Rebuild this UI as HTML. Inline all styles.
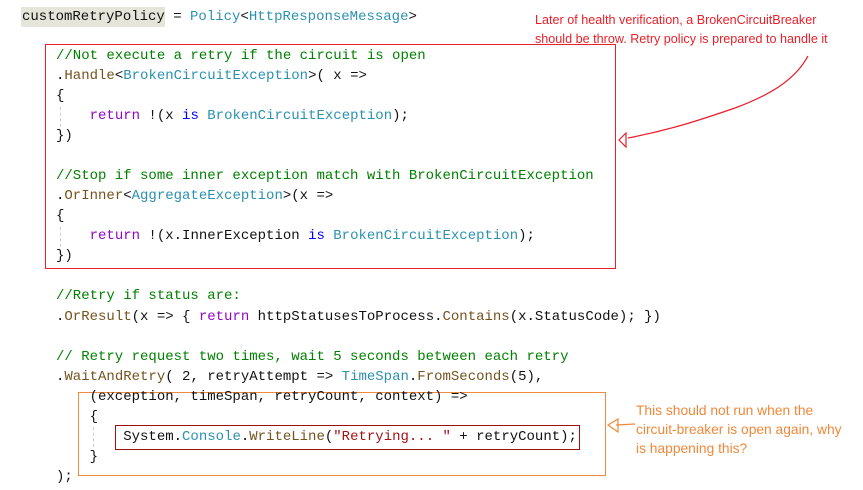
<!DOCTYPE html>
<html><head><meta charset="utf-8"><style>
html,body{margin:0;padding:0;background:#fff;width:863px;height:490px;overflow:hidden}
body{position:relative}
.l{position:absolute;font-family:"Liberation Mono",monospace;font-size:14px;line-height:20px;white-space:pre;color:#111}
.c{color:#008000}.t{color:#2b91af}.m{color:#74531f}.k{color:#0000ff}.r{color:#8f08c4}.s{color:#a31515}
.box{position:absolute;box-sizing:border-box}
.a{position:absolute;font-family:"Liberation Sans",sans-serif;line-height:19px;white-space:pre}
.g{position:absolute;width:0;border-left:1px dashed #ccc}
</style></head><body>
<div class="box" style="left:21px;top:7px;width:144px;height:20px;background:#e5e6d9"></div>
<div class="l" style="left:22px;top:7px">customRetryPolicy = <span class="t">Policy</span>&lt;<span class="t">HttpResponseMessage</span>&gt;</div>

<div class="box" style="left:45px;top:44px;width:571px;height:225px;border:1px solid #e8202a"></div>
<div class="g" style="left:60px;top:107px;height:20px"></div>
<div class="g" style="left:60px;top:227px;height:20px"></div>
<div class="l" style="left:56px;top:46px"><span class="c">//Not execute a retry if the circuit is open</span></div>
<div class="l" style="left:56px;top:66px">.<span class="m">Handle</span>&lt;<span class="t">BrokenCircuitException</span>&gt;( x =&gt;</div>
<div class="l" style="left:56px;top:86px">{</div>
<div class="l" style="left:56px;top:106px">    <span class="r">return</span> !(x <span class="k">is</span> <span class="t">BrokenCircuitException</span>);</div>
<div class="l" style="left:56px;top:126px">})</div>
<div class="l" style="left:56px;top:166px"><span class="c">//Stop if some inner exception match with BrokenCircuitException</span></div>
<div class="l" style="left:56px;top:186px">.<span class="m">OrInner</span>&lt;<span class="t">AggregateException</span>&gt;(x =&gt;</div>
<div class="l" style="left:56px;top:206px">{</div>
<div class="l" style="left:56px;top:226px">    <span class="r">return</span> !(x.InnerException <span class="k">is</span> <span class="t">BrokenCircuitException</span>);</div>
<div class="l" style="left:56px;top:246px">})</div>

<div class="l" style="left:56px;top:286px"><span class="c">//Retry if status are:</span></div>
<div class="l" style="left:56px;top:307px">.<span class="m">OrResult</span>(x =&gt; { <span class="r">return</span> httpStatusesToProcess.<span class="m">Contains</span>(x.StatusCode); })</div>
<div class="l" style="left:56px;top:347px"><span class="c">// Retry request two times, wait 5 seconds between each retry</span></div>
<div class="l" style="left:56px;top:367px">.<span class="m">WaitAndRetry</span>( 2, retryAttempt =&gt; <span class="t">TimeSpan</span>.<span class="m">FromSeconds</span>(5),</div>

<div class="box" style="left:78px;top:392px;width:528px;height:84px;border:1px solid #f08a3c"></div>
<div class="g" style="left:93px;top:427px;height:20px"></div>
<div class="l" style="left:56px;top:387px">    (exception, timeSpan, retryCount, context) =&gt;</div>
<div class="l" style="left:56px;top:407px">    {</div>
<div class="box" style="left:115px;top:425px;width:465px;height:25px;border:1px solid #9a1010"></div>
<div class="l" style="left:56px;top:427px">        System.<span class="t">Console</span>.<span class="m">WriteLine</span>(<span class="s">"Retrying... "</span> + retryCount);</div>
<div class="l" style="left:56px;top:447px">    }</div>
<div class="l" style="left:56px;top:467px">);</div>

<div class="a" style="left:535px;top:11px;color:#e8202a;font-size:12.6px">Later of health verification, a BrokenCircuitBreaker
should be throw. Retry policy is prepared to handle it</div>
<div class="a" style="left:636px;top:401px;color:#f0883a;font-size:13.8px">This should not run when the
circuit-breaker is open again, why
is happening this?</div>

<svg width="863" height="490" style="position:absolute;left:0;top:0" fill="none">
<path d="M808,56 C795,80 770,95 735,108 C700,120 670,130 628,138" stroke="#e8202a" stroke-width="1.3"/>
<path d="M626,133 L619,140 L626,147 Z" stroke="#e8202a" stroke-width="1.2"/>
<path d="M616,425 L635,424" stroke="#f0883a" stroke-width="1.2"/>
<path d="M618,419 L608,425 L618,432 Z" stroke="#f0883a" stroke-width="1.2"/>
</svg>
</body></html>
